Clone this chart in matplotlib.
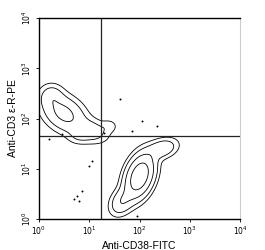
#!/usr/bin/env python3

import numpy as np
import matplotlib
matplotlib.use("Agg")
import matplotlib.pyplot as plt

# populations in log10 units: x center, y center, x sd, y sd, correlation, weight
pop_x = [0.50, 1.05, 0.25, 2.00, 1.65, 2.45, 1.40, 0.80]
pop_y = [2.10, 1.75, 2.45, 0.85, 0.35, 1.40, 1.85, 1.65]
pop_sx = [0.25, 0.20, 0.14, 0.16, 0.14, 0.18, 0.10, 0.14]
pop_sy = [0.22, 0.14, 0.14, 0.24, 0.16, 0.12, 0.08, 0.10]
pop_rho = [-0.35, -0.2, 0.0, 0.35, 0.3, 0.3, 0.0, 0.0]
pop_w = [0.28, 0.14, 0.12, 1.0, 0.2, 0.18, 0.05, 0.06]

contour_levels = [0.03, 0.08, 0.22, 0.55]

# stray events (log10 units)
dot_x = [0.75, 0.80, 0.85, 0.70, 1.00, 1.05, 1.30, 1.62, 2.05, 2.35, 1.85, 0.45, 0.20, 1.95]
dot_y = [0.45, 0.35, 0.55, 0.40, 1.05, 1.15, 1.72, 2.38, 1.95, 1.85, 1.75, 1.70, 1.60, 0.05]

quad_x = 17
quad_y = 45

xlabel = "Anti-CD38-FITC"
ylabel = "Anti-CD3 \u03b5-R-PE"
tick_pos = [1, 10, 100, 1000, 10000]
tick_labels = ["$10^{0}$", "$10^{1}$", "$10^{2}$", "$10^{3}$", "$10^{4}$"]


def density(gx, gy):
    z = np.zeros_like(gx)
    for mx, my, sx, sy, r, w in zip(pop_x, pop_y, pop_sx, pop_sy, pop_rho, pop_w):
        u = (gx - mx) / sx
        v = (gy - my) / sy
        q = (u * u - 2 * r * u * v + v * v) / (1 - r * r)
        z += w * np.exp(-0.5 * q)
    return z


fig = plt.figure(figsize=(2.65, 2.5), dpi=100)
ax = fig.add_axes([0.147, 0.124, 0.759, 0.804])

g = np.linspace(0, 4, 400)
gx, gy = np.meshgrid(g, g)
z = density(gx, gy)
ax.contour(10 ** gx, 10 ** gy, z, levels=contour_levels, colors="black", linewidths=0.6)
ax.scatter([10 ** v for v in dot_x], [10 ** v for v in dot_y], s=2, color="black", lw=0)

ax.axvline(quad_x, color="#222222", lw=0.9)
ax.axhline(quad_y, color="#222222", lw=0.9)

ax.set_xscale("log")
ax.set_yscale("log")
ax.set_xlim(1, 10000)
ax.set_ylim(1, 10000)
ax.set_xticks(tick_pos)
ax.set_xticklabels(tick_labels)
ax.set_yticks(tick_pos)
ax.set_yticklabels(tick_labels, rotation=90, va="center")
ax.minorticks_off()
ax.tick_params(length=2, width=0.6, labelsize=5.5, pad=2)

for s in ["left", "bottom", "top"]:
    ax.spines[s].set_linewidth(1.0)
ax.spines["right"].set_color("#cccccc")
ax.spines["right"].set_linewidth(0.8)

ax.set_xlabel(xlabel, fontsize=7.5, family="Liberation Sans", labelpad=3)
ax.set_ylabel(ylabel, fontsize=7.5, family="Liberation Sans", labelpad=2)

fig.savefig("out.png", dpi=100)
